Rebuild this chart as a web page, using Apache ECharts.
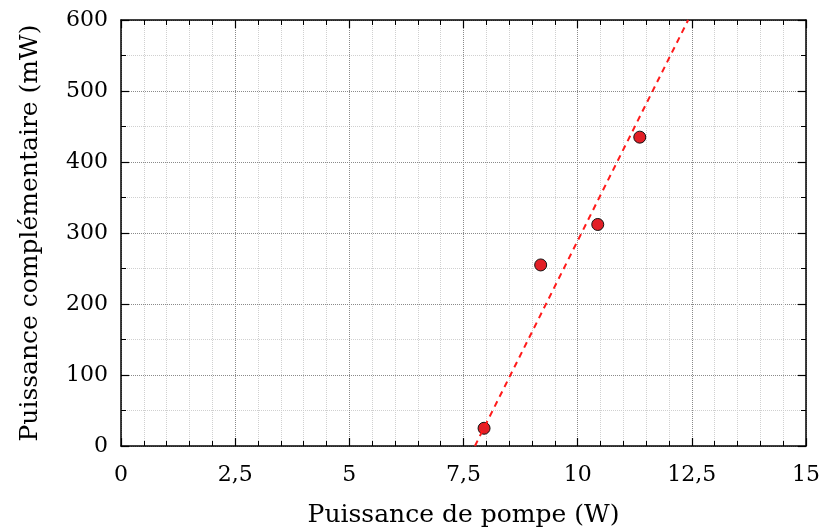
<!DOCTYPE html>
<html>
<head>
<meta charset="utf-8">
<script src="https://cdn.jsdelivr.net/npm/echarts@6/dist/echarts.min.js"></script>
<style>
  html, body { margin: 0; padding: 0; background: #fff; }
  #main { width: 821px; height: 529px; }
</style>
</head>
<body>
<div id="main"></div>
<script>
// mesures
var pompe = [7.95, 9.19, 10.44, 11.36];      // W
var compl = [25, 255, 312, 435];             // mW
// droite d'ajustement (extrémités)
var fitX = [7.75, 12.42];
var fitY = [0, 600];
var xTicks = [0, 2.5, 5, 7.5, 10, 12.5, 15];

var chart = echarts.init(document.getElementById('main'));
var fnt = 'DejaVu Serif';

var pts = pompe.map(function (x, i) { return [x, compl[i]]; });
var fit = fitX.map(function (x, i) { return [x, fitY[i]]; });

function axisBase(extra) {
    var a = {
        axisLine: { show: true, onZero: false, lineStyle: { color: '#000', width: 1.5 } },
        axisTick: { show: true, inside: true, length: 8, lineStyle: { color: '#000', width: 1.2 } },
        minorTick: { show: true, length: 5, lineStyle: { color: '#000', width: 1 } }
    };
    for (var k in extra) a[k] = extra[k];
    return a;
}

chart.setOption({
    animation: false,
    grid: { left: 121, right: 15, top: 20, bottom: 83, containLabel: false, outerBoundsMode: 'none' },
    xAxis: [
        axisBase({
            type: 'value', min: 0, max: 15, interval: 2.5, position: 'bottom',
            minorTick: { show: true, splitNumber: 5, length: 5, lineStyle: { color: '#000', width: 1 } },
            axisLabel: {
                margin: 18, color: '#000', fontFamily: fnt, fontSize: 22,
                formatter: function (v) { return String(v).replace('.', ','); }
            },
            splitLine: { show: true, lineStyle: { color: '#8a8a8a', type: 'dotted', width: 1 } },
            minorSplitLine: { show: true, lineStyle: { color: '#d0d0d0', type: 'dotted', width: 1 } },
            name: 'Puissance de pompe (W)', nameLocation: 'middle', nameGap: 57,
            nameTextStyle: { color: '#000', fontFamily: fnt, fontSize: 25 }
        }),
        axisBase({
            type: 'value', min: 0, max: 15, interval: 2.5, position: 'top',
            minorTick: { show: true, splitNumber: 5, length: 5, lineStyle: { color: '#000', width: 1 } },
            axisLabel: { show: false }, splitLine: { show: false }
        })
    ],
    yAxis: [
        axisBase({
            type: 'value', min: 0, max: 600, interval: 100, position: 'left',
            minorTick: { show: true, splitNumber: 2, length: 5, lineStyle: { color: '#000', width: 1 } },
            axisLabel: { margin: 13, color: '#000', fontFamily: fnt, fontSize: 22 },
            splitLine: { show: true, lineStyle: { color: '#8a8a8a', type: 'dotted', width: 1 } },
            minorSplitLine: { show: true, lineStyle: { color: '#d0d0d0', type: 'dotted', width: 1 } },
            name: 'Puissance complémentaire (mW)', nameLocation: 'middle', nameGap: 78,
            nameTextStyle: { color: '#000', fontFamily: fnt, fontSize: 25 }
        }),
        axisBase({
            type: 'value', min: 0, max: 600, interval: 100, position: 'right',
            minorTick: { show: true, splitNumber: 2, length: 5, lineStyle: { color: '#000', width: 1 } },
            axisLabel: { show: false }, splitLine: { show: false }
        })
    ],
    series: [
        {
            type: 'line', data: fit, xAxisIndex: 0, yAxisIndex: 0,
            symbol: 'none', silent: true,
            lineStyle: { color: '#ff1a1a', width: 2, type: [6, 5] }
        },
        {
            type: 'scatter', data: pts, xAxisIndex: 0, yAxisIndex: 0,
            symbolSize: 12,
            itemStyle: { color: '#e21f26', borderColor: '#111', borderWidth: 1, opacity: 1 }
        }
    ]
});
</script>
</body>
</html>
